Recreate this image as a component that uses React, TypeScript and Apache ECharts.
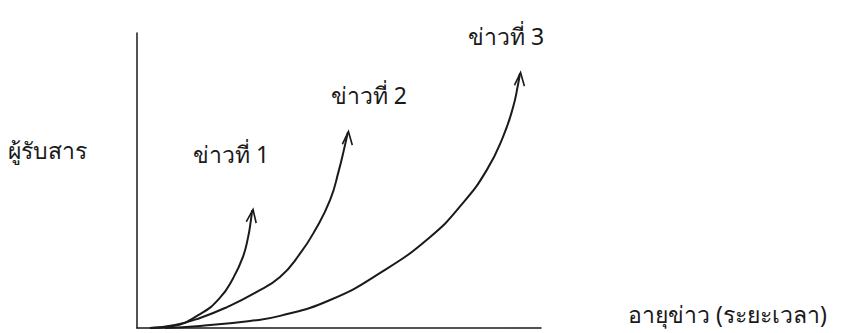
import React, { useEffect, useRef } from "react";
import * as echarts from "echarts";

// Curve points (x: time, y: receivers), scale 0..100 on both axes
const news1X = [3.2, 8.9, 15.6, 20.5, 23.8, 26.2, 27.5, 28.2, 28.5];
const news1Y = [0, 0.7, 4.7, 10.2, 16.9, 24.0, 30.8, 36.6, 40.0];
const news2X = [3.2, 9.4, 15.6, 22.3, 29.2, 35.4, 40.3, 44.1, 47.8, 50.0, 51.2, 52.2];
const news2Y = [0, 1.0, 3.4, 7.1, 11.9, 17.3, 25.1, 33.2, 43.4, 53.6, 60.3, 66.4];
const news3X = [6.9, 15.6, 28.0, 35.4, 47.8, 60.1, 72.5, 80.7, 86.6, 90.6, 93.1, 94.3, 94.8];
const news3Y = [0, 0.7, 2.4, 4.1, 9.5, 18.6, 30.8, 42.4, 53.6, 64.8, 74.9, 82.4, 86.4];
const seriesNames = ["ข่าวที่ 1", "ข่าวที่ 2", "ข่าวที่ 3"];
const yTitle = "ผู้รับสาร";
const xTitle = "อายุข่าว (ระยะเวลา)";

const FONT = "'Noto Sans', 'DejaVu Sans', sans-serif";
const INK = "#1a1a1a";

function buildSeries(xs: number[], ys: number[], name: string, rot: number, labelOffset: number[]) {
  const data = xs.map((x, i) => {
    const last = i === xs.length - 1;
    if (!last) return { value: [x, ys[i]], symbol: "none" };
    return {
      value: [x, ys[i]],
      symbol: "path://M0,13 L5,0 L10,13",
      symbolSize: [10, 13],
      symbolRotate: rot,
      symbolOffset: [0, 6],
      itemStyle: { color: "none", borderColor: INK, borderWidth: 1.8 },
      label: {
        show: true,
        formatter: name,
        position: "inside",
        offset: labelOffset,
        fontFamily: FONT,
        fontSize: 23,
        color: INK,
      },
    };
  });
  return {
    type: "line",
    name,
    smooth: 0.5,
    showSymbol: true,
    data,
    lineStyle: { color: INK, width: 2 },
    itemStyle: { color: INK },
    z: 3,
  };
}

export default function App() {
  const ref = useRef<HTMLDivElement>(null);
  useEffect(() => {
    if (!ref.current) return;
    const chart = echarts.init(ref.current, null, { renderer: "svg" });
    chart.setOption({
      animation: false,
      backgroundColor: "#ffffff",
      grid: { left: 137, right: 302, top: 33, bottom: 5 },
      xAxis: {
        type: "value",
        min: 0,
        max: 100,
        axisLine: { show: true, lineStyle: { color: INK, width: 1.5 } },
        axisTick: { show: false },
        axisLabel: { show: false },
        splitLine: { show: false },
      },
      yAxis: {
        type: "value",
        min: 0,
        max: 100,
        axisLine: { show: true, lineStyle: { color: INK, width: 1.5 } },
        axisTick: { show: false },
        axisLabel: { show: false },
        splitLine: { show: false },
      },
      graphic: [
        {
          type: "text",
          left: 8,
          top: 138,
          style: { text: yTitle, font: `23px ${FONT}`, fill: INK },
        },
        {
          type: "text",
          left: 628,
          top: 302,
          style: { text: xTitle, font: `23px ${FONT}`, fill: INK },
        },
      ],
      series: [
        buildSeries(news1X, news1Y, seriesNames[0], -8, [-21, -62]),
        buildSeries(news2X, news2Y, seriesNames[1], -5, [21, -43]),
        buildSeries(news3X, news3Y, seriesNames[2], -5, [-14, -43]),
      ],
    });
    return () => chart.dispose();
  }, []);
  return (
    <div
      ref={ref}
      style={{ position: "fixed", left: 0, top: 0, width: 843, height: 333, background: "#fff" }}
    />
  );
}
